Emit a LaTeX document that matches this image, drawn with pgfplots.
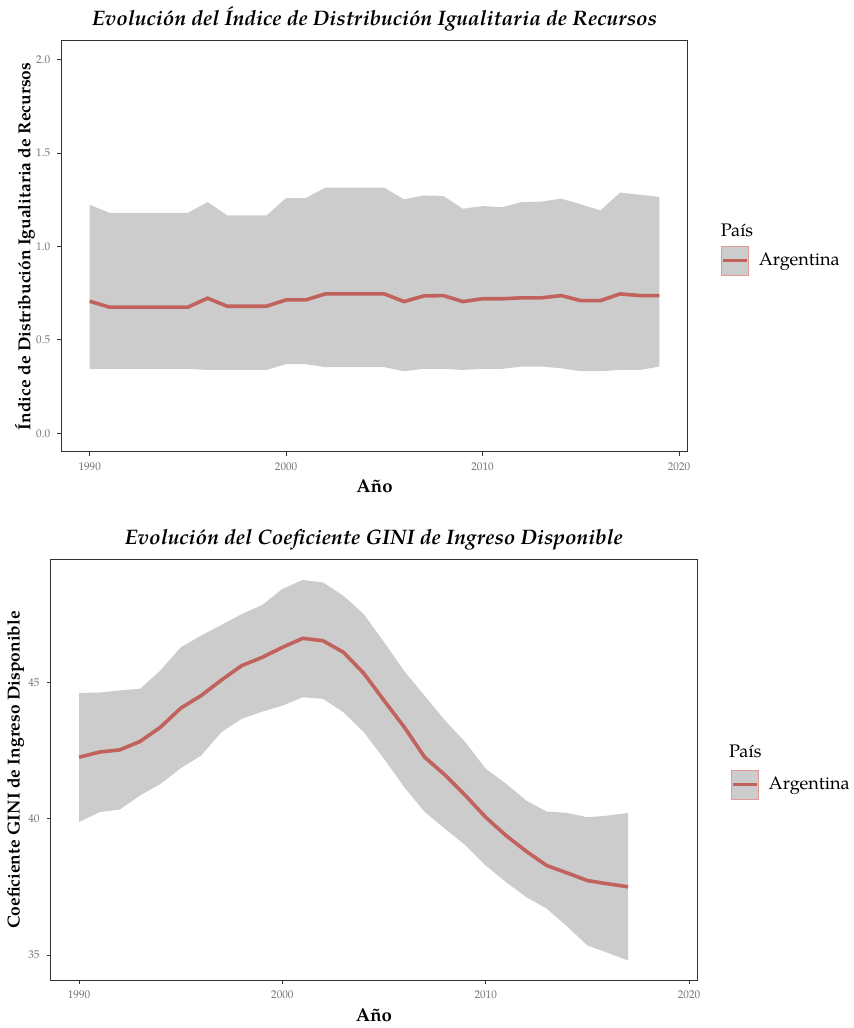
\documentclass[border=0pt]{standalone}
\usepackage{fontspec}
\setmainfont{TeX Gyre Pagella}
\usepackage{pgfplots}
\usepackage{pgfplotstable}
\pgfplotsset{compat=1.18}
\usepgfplotslibrary{fillbetween}
\definecolor{bandgray}{HTML}{CCCCCC}
\definecolor{linered}{HTML}{C2625C}
\definecolor{keyborder}{HTML}{E39A96}
\definecolor{axisgray}{HTML}{333333}

\pgfplotstableread{
year line lo hi
1990 0.707 0.345 1.223
1991 0.675 0.345 1.180
1992 0.675 0.345 1.180
1993 0.675 0.345 1.180
1994 0.675 0.345 1.180
1995 0.675 0.345 1.180
1996 0.723 0.339 1.238
1997 0.680 0.339 1.166
1998 0.680 0.339 1.166
1999 0.680 0.339 1.166
2000 0.714 0.370 1.259
2001 0.714 0.370 1.259
2002 0.746 0.354 1.315
2003 0.746 0.354 1.315
2004 0.746 0.354 1.315
2005 0.746 0.354 1.315
2006 0.705 0.332 1.252
2007 0.735 0.345 1.273
2008 0.737 0.345 1.270
2009 0.705 0.339 1.202
2010 0.720 0.345 1.216
2011 0.720 0.345 1.210
2012 0.725 0.357 1.238
2013 0.725 0.357 1.240
2014 0.737 0.348 1.256
2015 0.710 0.332 1.225
2016 0.710 0.332 1.193
2017 0.746 0.339 1.288
2018 0.737 0.339 1.277
2019 0.737 0.357 1.265
}\tabIDIR

\pgfplotstableread{
year line lo hi
1990 42.25 39.87 44.61
1991 42.44 40.24 44.62
1992 42.52 40.33 44.70
1993 42.83 40.85 44.76
1994 43.35 41.27 45.43
1995 44.05 41.85 46.28
1996 44.51 42.31 46.71
1997 45.08 43.17 47.10
1998 45.61 43.66 47.50
1999 45.91 43.92 47.83
2000 46.28 44.14 48.42
2001 46.61 44.45 48.75
2002 46.52 44.39 48.66
2003 46.10 43.90 48.17
2004 45.33 43.17 47.50
2005 44.33 42.19 46.47
2006 43.35 41.15 45.40
2007 42.25 40.24 44.50
2008 41.60 39.63 43.60
2009 40.85 39.02 42.80
2010 40.05 38.28 41.83
2011 39.38 37.67 41.28
2012 38.80 37.12 40.66
2013 38.28 36.70 40.26
2014 38.01 36.05 40.21
2015 37.73 35.35 40.05
2016 37.61 35.08 40.11
2017 37.50 34.80 40.21
}\tabGINI

\pgfplotsset{
  mystyle/.style={
    scale only axis,
    clip mode=individual,
    axis line style={axisgray, line width=0.5pt},
    tick align=outside,
    major tick length=2pt,
    tick style={axisgray, line width=0.5pt},
    xtick pos=left, ytick pos=left,
    ticklabel style={font=\fontsize{5.6}{6}\selectfont, text=black!55},
    /pgf/number format/assume math mode=true,
    /pgf/number format/1000 sep={},
    xtick={1990,2000,2010,2020},
    title style={font=\bfseries\itshape\fontsize{10.5}{12}\selectfont, at={(0.5,1)}, anchor=base, yshift=1.5pt},
    xlabel style={font=\bfseries\fontsize{9.3}{10}\selectfont, at={(axis description cs:0.5,0)}, anchor=base, yshift=-20.5pt},
    ylabel style={font=\bfseries\fontsize{8.7}{10}\selectfont, at={(axis description cs:0,0.5)}, anchor=base, yshift=15.5pt},
  },
  keystyle/.style={
    legend image code/.code={
      \path[fill=bandgray, draw=none] (0pt,-7.5pt) rectangle (14.5pt,7.5pt);
      \path[draw=keyborder, fill=none, line width=0.5pt] (0.25pt,-7.25pt) rectangle (14.25pt,7.25pt);
      \path[draw=linered, fill=none, line width=1.8pt] (1pt,0pt) -- (13.5pt,0pt);
      \path[draw=none, fill=none] (0pt,0pt) -- (19.15pt,0pt);
    },
  },
}

\begin{document}
\begin{tikzpicture}
\path (0,0) rectangle (427.5pt,514pt);

% Top panel
\begin{axis}[mystyle,
  at={(30.65pt,287.65pt)}, anchor=south west,
  width=313.85pt, height=205.85pt,
  xmin=1988.55, xmax=2020.45, ymin=-0.1, ymax=2.1,
  ytick={0,0.5,1,1.5,2},
  yticklabel style={/pgf/number format/.cd, fixed, fixed zerofill, precision=1},
  title={Evolución del Índice de Distribución Igualitaria de Recursos},
  xlabel={Año},
  ylabel={Índice de Distribución Igualitaria de Recursos},
  legend style={at={(axis description cs:1,0.4656)}, anchor=west, xshift=16.35pt,
    draw=none, fill=none, inner sep=0pt, outer sep=0pt,
    nodes={inner sep=0pt, font=\fontsize{9.1}{10}\selectfont}},
  legend cell align=left,
]
\addplot[name path=hiA, draw=none, forget plot] table[x=year, y=hi] {\tabIDIR};
\addplot[name path=loA, draw=none, forget plot] table[x=year, y=lo] {\tabIDIR};
\addplot[bandgray, forget plot] fill between[of=hiA and loA];
\addplot[linered, line width=1.8pt, keystyle] table[x=year, y=line] {\tabIDIR};
\addlegendentry{Argentina}
\node[anchor=base west, inner sep=0pt, font=\fontsize{9.1}{10}\selectfont, xshift=16.35pt] at (axis description cs:1,0.5247) {País};
\end{axis}

% Bottom panel
\begin{axis}[mystyle,
  at={(25.35pt,23.15pt)}, anchor=south west,
  width=323.8pt, height=210.5pt,
  xmin=1988.6, xmax=2020.4, ymin=34.08, ymax=49.49,
  ytick={35,40,45},
  title={Evolución del Coeficiente GINI de Ingreso Disponible},
  xlabel={Año},
  ylabel={Coeficiente GINI de Ingreso Disponible},
  legend style={at={(axis description cs:1,0.465)}, anchor=west, xshift=16.7pt,
    draw=none, fill=none, inner sep=0pt, outer sep=0pt,
    nodes={inner sep=0pt, font=\fontsize{9.1}{10}\selectfont}},
  legend cell align=left,
]
\addplot[name path=hiB, draw=none, forget plot] table[x=year, y=hi] {\tabGINI};
\addplot[name path=loB, draw=none, forget plot] table[x=year, y=lo] {\tabGINI};
\addplot[bandgray, forget plot] fill between[of=hiB and loB];
\addplot[linered, line width=1.8pt, keystyle] table[x=year, y=line] {\tabGINI};
\addlegendentry{Argentina}
\node[anchor=base west, inner sep=0pt, font=\fontsize{9.1}{10}\selectfont, xshift=15.85pt] at (axis description cs:1,0.5306) {País};
\end{axis}
\end{tikzpicture}
\end{document}
